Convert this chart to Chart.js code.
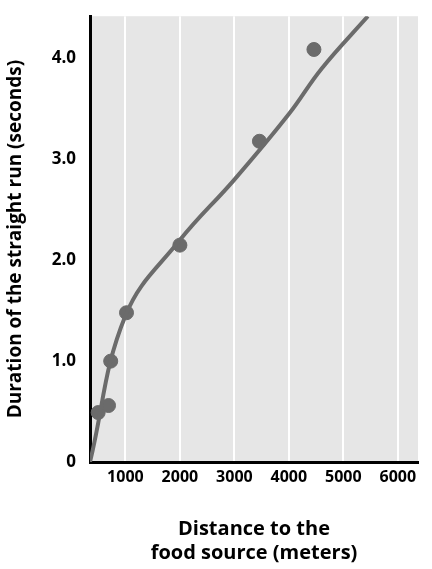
<!DOCTYPE html>
<html>
<head>
<script src="https://cdn.jsdelivr.net/npm/chart.js@4"></script>
<style>body{margin:0;background:#fff}</style>
</head>
<body>
<canvas id="c" width="432" height="569"></canvas>
<script>
// datos
const distancia = [500, 690, 730, 1020, 2000, 3460, 4460];
const duracion = [0.49, 0.56, 1.0, 1.48, 2.15, 3.18, 4.09];
const curvaX = [350, 1000, 2000, 3000, 4000, 4600, 5450];
const curvaY = [0, 1.45, 2.2, 2.8, 3.45, 3.9, 4.42];
const xTicks = [1000, 2000, 3000, 4000, 5000, 6000];
const yTicks = [0, 1, 2, 3, 4];

const gris = '#6b6b6b';

// fondo gris del area del grafico
const fondo = {
  id: 'fondo',
  beforeDraw(chart) {
    const a = chart.chartArea, ctx = chart.ctx;
    ctx.save();
    ctx.fillStyle = '#e6e6e6';
    ctx.fillRect(a.left, a.top, a.right - a.left, a.bottom - a.top);
    ctx.restore();
  }
};

new Chart(document.getElementById('c'), {
  type: 'scatter',
  data: {
    datasets: [{
      type: 'line',
      data: curvaX.map((x, i) => ({ x: x, y: curvaY[i] })),
      borderColor: gris,
      borderWidth: 4,
      pointRadius: 0,
      tension: 0.4
    }, {
      data: distancia.map((x, i) => ({ x: x, y: duracion[i] })),
      backgroundColor: gris,
      borderColor: gris,
      pointRadius: 7
    }]
  },
  options: {
    responsive: false,
    animation: false,
    devicePixelRatio: 1,
    layout: { padding: { top: 15, right: 14, left: 0, bottom: 0 } },
    plugins: { legend: { display: false }, tooltip: { enabled: false } },
    scales: {
      x: {
        type: 'linear', min: 350, max: 6370,
        afterBuildTicks: s => { s.ticks = xTicks.map(v => ({ value: v })); },
        afterFit: s => { s.height = 107; },
        grid: { color: '#ffffff', lineWidth: 2, drawTicks: false },
        border: { color: '#000', width: 3 },
        ticks: {
          color: '#000', font: { family: 'Open Sans', weight: 'bold', size: 16 }, padding: 6,
          callback: v => String(v)
        },
        title: {
          display: true,
          text: ['Distance to the', 'food source (meters)'],
          color: '#000',
          font: { family: 'Open Sans', weight: 'bold', size: 20 },
          padding: { top: 14 }
        }
      },
      y: {
        min: 0, max: 4.42,
        afterBuildTicks: s => { s.ticks = yTicks.map(v => ({ value: v })); },
        afterFit: s => { s.width = 90; },
        grid: { display: false },
        border: { color: '#000', width: 3 },
        ticks: {
          color: '#000', font: { family: 'Open Sans', weight: 'bold', size: 17 }, padding: 6,
          callback: v => v === 0 ? '0' : v.toFixed(1)
        },
        title: {
          display: true,
          text: 'Duration of the straight run (seconds)',
          color: '#000',
          font: { family: 'Open Sans', weight: 'bold', size: 19 },
          padding: { bottom: 4 }
        }
      }
    }
  },
  plugins: [fondo]
});
</script>
</body>
</html>
